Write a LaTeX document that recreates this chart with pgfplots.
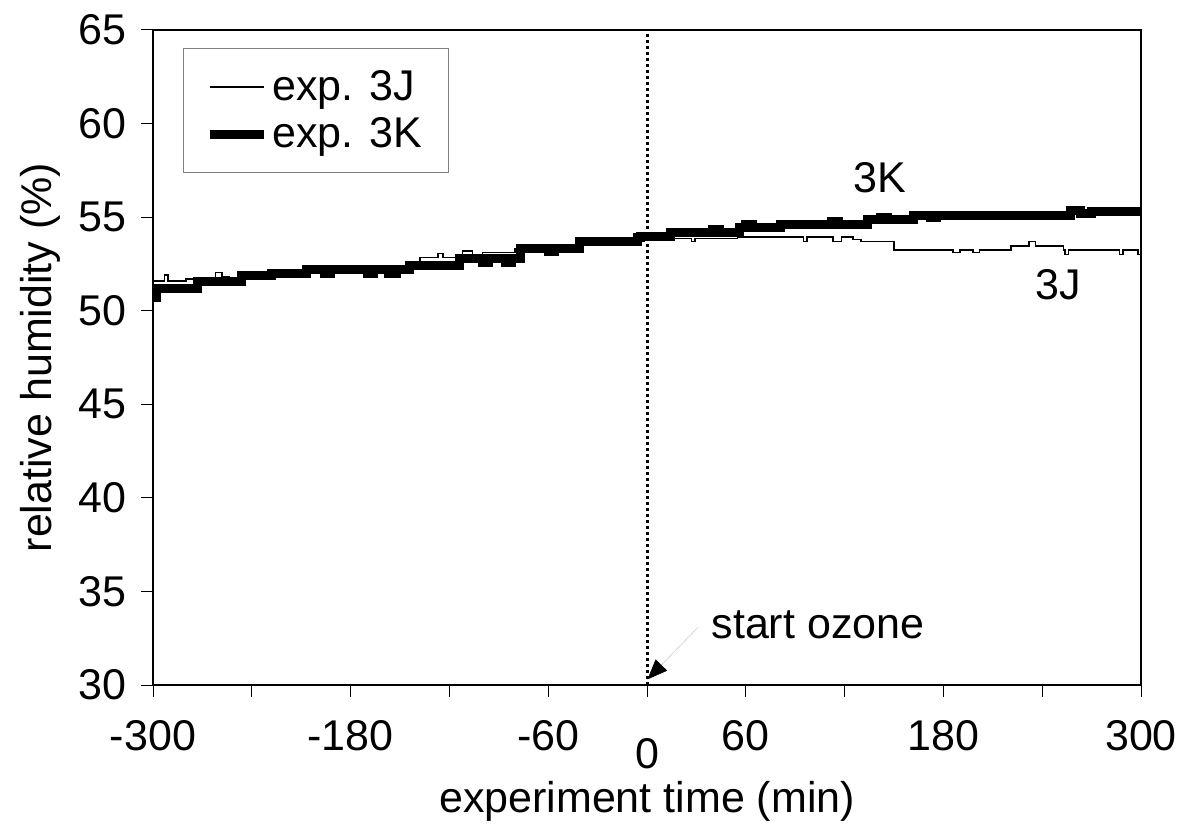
\documentclass[border=0pt]{standalone}
\usepackage{pgfplots}
\pgfplotsset{compat=1.18}
\usepackage{fontspec}
\setmainfont{Liberation Sans}
\usetikzlibrary{arrows.meta}
\newcommand{\bigf}{\fontsize{21.5}{25}\selectfont}
\begin{document}
\begin{tikzpicture}
\begin{axis}[
  name=ax,
  scale only axis,
  width=494pt, height=327.5pt,
  xmin=-300, xmax=300, ymin=30, ymax=65,
  clip mode=individual,
  xtick={-300,-240,...,300},
  xticklabels={-300,,-180,,-60,,60,,180,,300},
  ytick={30,35,...,65},
  yticklabels={30,35,40,45,50,55,60,65},
  tick align=outside,
  xtick pos=left, ytick pos=left,
  major tick length=6pt,
  tick style={line width=0.5pt, black},
  axis line style={line width=1.2pt},
  /pgf/number format/assume math mode=true,
  font=\bigf,
  xticklabel style={font=\bigf, yshift=-8pt},
  yticklabel style={font=\bigf, xshift=-4pt},
  xlabel={experiment time (min)},
  ylabel={relative humidity (\%)},
  xlabel style={font=\bigf, at={([yshift=-58pt]axis description cs:0.5,0)}, anchor=center},
  ylabel style={font=\bigf, at={([xshift=-56.5pt]axis description cs:0,0.5)}, anchor=center},
  legend style={font=\bigf, at={(rel axis cs:0,1)}, anchor=north west, xshift=15pt, yshift=-9pt,
    draw=gray, line width=0.5pt, inner xsep=11pt, inner ysep=9pt, row sep=3pt, cells={anchor=west}},
  legend image code/.code={\draw[#1] (0pt,0pt) -- (27pt,0pt);},
]
\addplot[const plot, black, line width=0.8pt] coordinates {
(-300,51.6) (-293,51.9) (-291,51.6) (-280,51.7) (-262,52.05) (-258,51.8) (-254,51.7)
(-246,51.95) (-210,52.2) (-170,52.2) (-150,52.3) (-138,52.85) (-127,53.05) (-124,52.85)
(-112,53.2) (-106,53.0) (-100,53.1) (-80,53.3) (-60,53.4) (-40,53.7) (-20,53.8) (-5,53.75)
(15,53.85) (27,53.7) (29,53.85) (55,53.95) (95,53.7) (97,53.95) (113,53.7) (118,53.95)
(125,53.8) (130,53.7) (150,53.25) (186,53.1) (190,53.25) (198,53.1) (202,53.25)
(221,53.45) (232,53.7) (236,53.45) (253,53.25) (254,53.0) (256,53.25) (287,53.0)
(289,53.25) (298,53.0) (300,53.25)
};
\addlegendentry{exp. 3J\hspace{6pt}}
\addplot[const plot, black, line width=4.5pt] coordinates {
(-300,50.7) (-298,51.2) (-273,51.55) (-246,51.9) (-228,52.0) (-207,52.2) (-196,52.0)
(-192,52.2) (-170,52.0) (-166,52.2) (-157,52.0) (-152,52.2) (-144,52.4) (-114,52.8)
(-100,52.6) (-96,52.8) (-86,52.6) (-82,52.8) (-77,53.3) (-60,53.15) (-56,53.3) (-41,53.7)
(-6,53.9) (-4,53.97) (14,54.2) (40,54.35) (44,54.2) (56,54.45) (60,54.6) (64,54.45)
(81,54.6) (112,54.75) (116,54.6) (134,54.85) (142,55.0) (146,54.85) (162,55.1)
(172,55.0) (176,55.1) (230,55.1) (257,55.35) (263,55.2) (270,55.3) (300,55.4)
};
\addlegendentry{exp. 3K\hspace{6pt}}
\draw[line width=1.5pt, dash pattern=on 1.5pt off 1.5pt] (axis cs:0,30) -- (axis cs:0,65);
\draw[gray!40, line width=0.3pt, -{Triangle[length=10pt, width=8pt, black]}] (axis cs:31.1,33.1) -- (axis cs:0.3,30.3);
\node[font=\bigf] at (axis cs:103.8,33.2) {start ozone};
\node[font=\bigf] at (axis cs:141.5,57.1) {3K};
\node[font=\bigf] at (axis cs:249.6,51.4) {3J};
\node[font=\bigf] at ([yshift=-34.5pt]axis cs:0,30) {0};
\end{axis}
\pgfresetboundingbox
\path ([shift={(-76.5pt,-71pt)}]ax.south west) rectangle ([shift={(21.5pt,15pt)}]ax.north east);
\end{tikzpicture}
\end{document}
